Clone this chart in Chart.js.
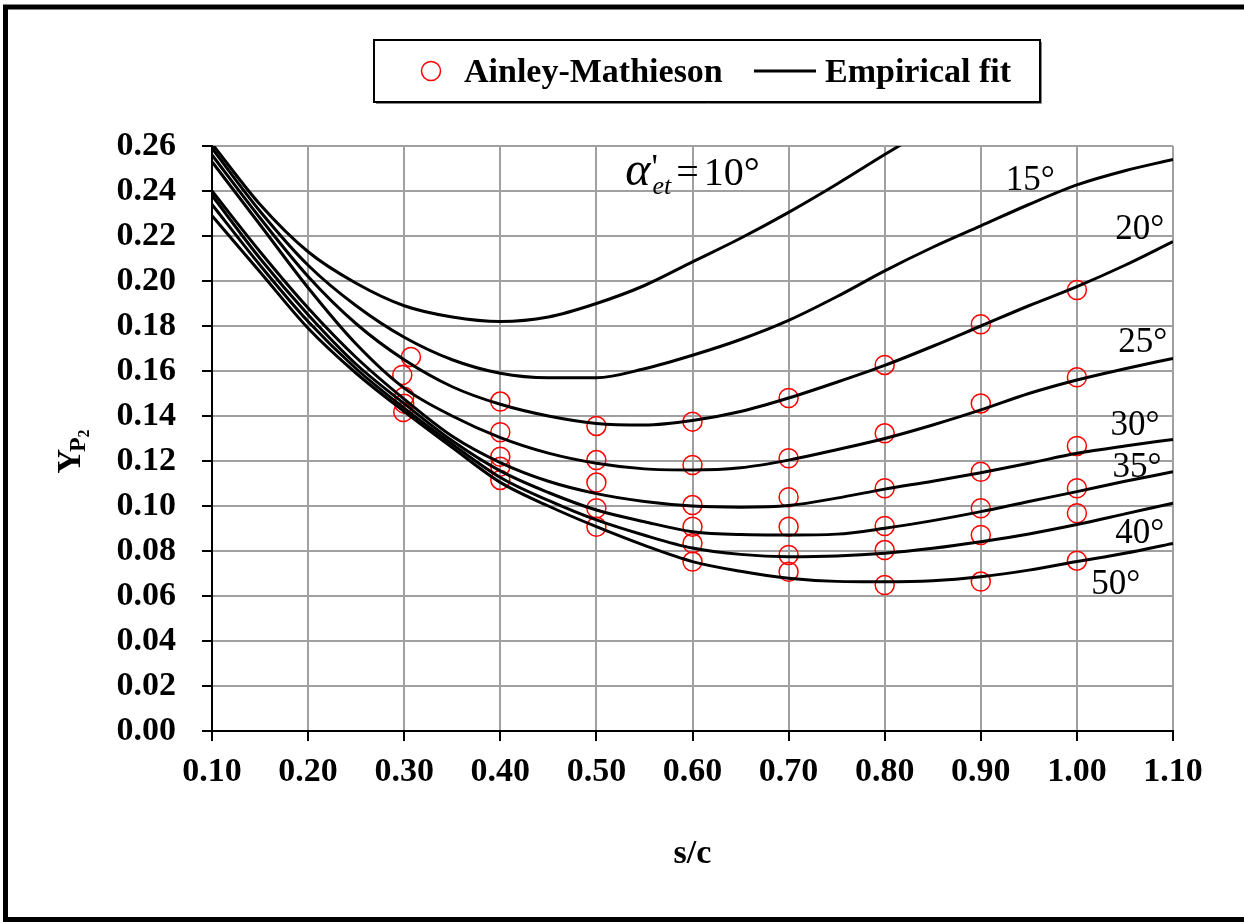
<!DOCTYPE html>
<html>
<head>
<meta charset="utf-8">
<script src="https://cdn.jsdelivr.net/npm/chart.js@4.4.0/dist/chart.umd.min.js"></script>
<style>
  html, body { margin: 0; padding: 0; background: #fff; }
  canvas { display: block; }
</style>
</head>
<body>
<canvas id="chart" width="1244" height="922"></canvas>
<script>
// s/c positions of the empirical fit curves
const fitSc = [0.10, 0.15, 0.20, 0.25, 0.30, 0.35, 0.40, 0.45, 0.50, 0.55, 0.60,
               0.65, 0.70, 0.75, 0.80, 0.85, 0.90, 0.95, 1.00, 1.05, 1.10];

// Empirical fit, one array per exit angle
const fit10 = [0.261, 0.234, 0.213, 0.199, 0.189, 0.184, 0.182, 0.184, 0.190, 0.198, 0.2085,
               0.219, 0.2305, 0.243, 0.2562, 0.269, null, null, null, null, null];
const fit15 = [0.259, 0.231, 0.207, 0.189, 0.175, 0.165, 0.159, 0.157, 0.157, 0.161, 0.167,
               0.174, 0.1825, 0.193, 0.2045, 0.215, 0.2245, 0.234, 0.2427, 0.249, 0.254];
const fit20 = [0.256, 0.228, 0.202, 0.181, 0.165, 0.153, 0.1452, 0.140, 0.1367, 0.136, 0.138,
               0.142, 0.148, 0.155, 0.1625, 0.171, 0.180, 0.189, 0.1975, 0.207, 0.2175];
const fit25 = [0.253, 0.225, 0.197, 0.172, 0.1524, 0.140, 0.1304, 0.1235, 0.119, 0.1165, 0.116,
               0.117, 0.1204, 0.125, 0.130, 0.136, 0.1427, 0.150, 0.156, 0.161, 0.1656];
const fit30 = [0.240, 0.213, 0.188, 0.166, 0.1475, 0.131, 0.1193, 0.111, 0.1055, 0.102, 0.100,
               0.0995, 0.1002, 0.1035, 0.1075, 0.111, 0.1148, 0.119, 0.1234, 0.1267, 0.1296];
const fit35 = [0.238, 0.210, 0.185, 0.163, 0.1455, 0.129, 0.1156, 0.106, 0.0982, 0.093, 0.0886,
               0.0873, 0.0871, 0.0875, 0.0901, 0.0935, 0.0975, 0.102, 0.1064, 0.111, 0.1152];
const fit40 = [0.234, 0.207, 0.182, 0.161, 0.1435, 0.1275, 0.1127, 0.1025, 0.0938, 0.087, 0.0813,
               0.0785, 0.0775, 0.0778, 0.079, 0.0812, 0.0841, 0.0876, 0.0918, 0.0965, 0.1012];
const fit50 = [0.229, 0.204, 0.179, 0.159, 0.142, 0.126, 0.1105, 0.100, 0.0908, 0.0825, 0.0753,
               0.071, 0.0679, 0.0665, 0.0663, 0.0668, 0.0686, 0.0715, 0.0753, 0.079, 0.0834];

// Ainley-Mathieson points
const amSc = [0.307, 0.298, 0.300, 0.300, 0.299,
              0.40, 0.40, 0.40, 0.40, 0.40,
              0.50, 0.50, 0.50, 0.50, 0.50,
              0.60, 0.60, 0.60, 0.60, 0.60, 0.60,
              0.70, 0.70, 0.70, 0.70, 0.70, 0.70,
              0.80, 0.80, 0.80, 0.80, 0.80, 0.80,
              0.90, 0.90, 0.90, 0.90, 0.90, 0.90,
              1.00, 1.00, 1.00, 1.00, 1.00, 1.00];
const amY = [0.1662, 0.1582, 0.1486, 0.1455, 0.1418,
             0.1464, 0.1328, 0.1219, 0.1175, 0.1116,
             0.1356, 0.1204, 0.1104, 0.0990, 0.0908,
             0.1375, 0.1182, 0.1004, 0.0908, 0.0834, 0.0753,
             0.1480, 0.1212, 0.1039, 0.0908, 0.0782, 0.0708,
             0.1627, 0.1323, 0.1079, 0.0911, 0.0804, 0.0649,
             0.1808, 0.1456, 0.1152, 0.0990, 0.0871, 0.0664,
             0.1960, 0.1572, 0.1267, 0.1079, 0.0968, 0.0757];

const angleNames = ['10°', '15°', '20°', '25°', '30°', '35°', '40°', '50°'];
const angleFits = [fit10, fit15, fit20, fit25, fit30, fit35, fit40, fit50];

// where the angle labels sit, in data units (s/c, Y)
const labelAt = {
  '15°': [0.926, 0.2404], '20°': [1.040, 0.2187], '25°': [1.043, 0.1684],
  '30°': [1.035, 0.1316], '35°': [1.037, 0.1129], '40°': [1.040, 0.0836],
  '50°': [1.015, 0.0609]
};
const alphaAt = [0.530, 0.2425];

const serif = '"Liberation Serif", "Times New Roman", serif';

const datasets = angleFits.map((arr, k) => ({
  type: 'line',
  label: 'Empirical fit ' + angleNames[k],
  data: fitSc.map((x, i) => ({ x: x, y: arr[i] })).filter(p => p.y !== null),
  borderColor: '#000',
  borderWidth: 3,
  pointRadius: 0,
  cubicInterpolationMode: 'monotone',
  fill: false
}));
datasets.push({
  type: 'scatter',
  label: 'Ainley-Mathieson',
  data: amSc.map((x, i) => ({ x: x, y: amY[i] })),
  pointStyle: 'circle',
  pointRadius: 9.5,
  borderColor: '#ff0000',
  backgroundColor: 'rgba(0,0,0,0)',
  borderWidth: 1.5
});

const decor = {
  id: 'decor',
  afterDraw(chart) {
    const ctx = chart.ctx;
    const xs = chart.scales.x, ys = chart.scales.y;
    ctx.save();

    // outer frame
    ctx.strokeStyle = '#000';
    ctx.lineWidth = 5;
    ctx.strokeRect(5.5, 7, 1260, 912.5);

    // legend box
    ctx.strokeStyle = '#888';
    ctx.lineWidth = 1;
    ctx.beginPath();
    ctx.moveTo(376, 103.5); ctx.lineTo(1041.5, 103.5); ctx.lineTo(1041.5, 42);
    ctx.stroke();
    ctx.strokeStyle = '#000';
    ctx.lineWidth = 2;
    ctx.strokeRect(374, 40, 666, 62);
    ctx.beginPath();
    ctx.arc(431, 71, 9.5, 0, Math.PI * 2);
    ctx.strokeStyle = '#ff0000';
    ctx.lineWidth = 1.5;
    ctx.stroke();
    ctx.beginPath();
    ctx.moveTo(754, 71); ctx.lineTo(816, 71);
    ctx.strokeStyle = '#000';
    ctx.lineWidth = 3;
    ctx.stroke();
    ctx.fillStyle = '#000';
    ctx.font = 'bold 34px ' + serif;
    ctx.textBaseline = 'alphabetic';
    ctx.textAlign = 'left';
    ctx.fillText('Ainley-Mathieson', 464, 82);
    ctx.fillText('Empirical fit', 825, 82);

    // x axis title
    ctx.textAlign = 'center';
    ctx.fillText('s/c', (xs.left + xs.right) / 2, 863);

    // y axis title Y_P2, rotated
    ctx.save();
    ctx.translate(80, 450);
    ctx.rotate(-Math.PI / 2);
    ctx.textAlign = 'left';
    ctx.font = 'bold 34px ' + serif;
    const wY = ctx.measureText('Y').width;
    ctx.font = 'bold 24px ' + serif;
    const wP = ctx.measureText('P').width;
    ctx.font = 'bold 16px ' + serif;
    const w2 = ctx.measureText('2').width;
    const x0 = -(wY + wP + w2) / 2;
    ctx.font = 'bold 34px ' + serif;
    ctx.fillText('Y', x0, 0);
    ctx.font = 'bold 24px ' + serif;
    ctx.fillText('P', x0 + wY - 3, 5);
    ctx.font = 'bold 16px ' + serif;
    ctx.fillText('2', x0 + wY + wP - 3, 9);
    ctx.restore();

    // angle labels on the curves
    ctx.textAlign = 'left';
    ctx.font = '35px ' + serif;
    Object.keys(labelAt).forEach(name => {
      const p = labelAt[name];
      ctx.fillText(name, xs.getPixelForValue(p[0]), ys.getPixelForValue(p[1]));
    });

    // alpha'_et = 10°
    let ax = xs.getPixelForValue(alphaAt[0]);
    const ab = ys.getPixelForValue(alphaAt[1]);
    ctx.font = 'italic 48px ' + serif;
    ctx.fillText('α', ax, ab);
    ax += ctx.measureText('α').width + 1;
    ctx.font = '36px ' + serif;
    ctx.fillText("'", ax, ab - 6);
    ctx.font = 'italic 26px ' + serif;
    ctx.fillText('et', ax + 1, ab + 9);
    ax += ctx.measureText('et').width + 6;
    ctx.font = '40px ' + serif;
    ctx.fillText('=', ax, ab);
    ax += ctx.measureText('=').width + 5;
    ctx.fillText('10°', ax, ab);

    ctx.restore();
  }
};

new Chart(document.getElementById('chart').getContext('2d'), {
  data: { datasets: datasets },
  options: {
    responsive: false,
    animation: false,
    layout: { padding: { top: 146, right: 71, left: 0, bottom: 0 } },
    plugins: {
      legend: { display: false },
      tooltip: { enabled: false }
    },
    scales: {
      x: {
        type: 'linear',
        min: 0.1,
        max: 1.1,
        ticks: {
          stepSize: 0.1,
          autoSkip: false,
          maxRotation: 0,
          padding: 11,
          color: '#000',
          font: { family: serif, size: 34, weight: 'bold' },
          callback: v => v.toFixed(2)
        },
        grid: { color: '#a0a0a0', lineWidth: 2, tickColor: '#000', tickLength: 10, tickWidth: 2 },
        border: { color: '#000', width: 2 },
        afterFit: s => { s.height = 191; }
      },
      y: {
        type: 'linear',
        min: 0,
        max: 0.26,
        ticks: {
          stepSize: 0.02,
          autoSkip: false,
          padding: 26,
          color: '#000',
          font: { family: serif, size: 34, weight: 'bold' },
          callback: v => v.toFixed(2)
        },
        grid: { color: '#a0a0a0', lineWidth: 2, tickColor: '#000', tickLength: 10, tickWidth: 2 },
        border: { color: '#000', width: 2 },
        afterFit: s => { s.width = 212; }
      }
    }
  },
  plugins: [decor]
});
</script>
</body>
</html>
